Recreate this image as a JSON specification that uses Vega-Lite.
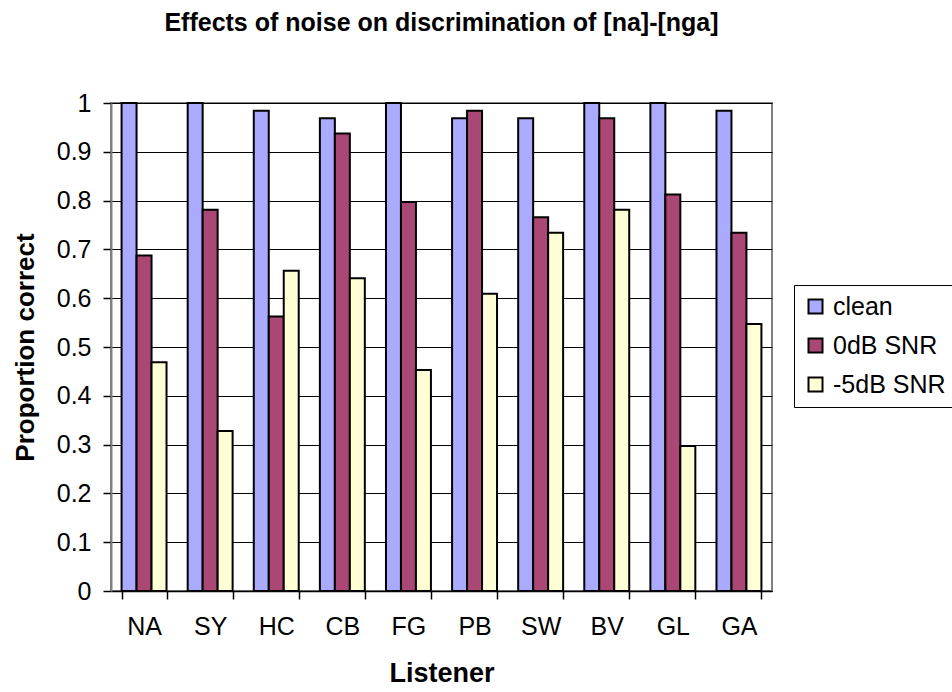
{
  "$schema": "https://vega.github.io/schema/vega-lite/v6.json",
  "width": 661,
  "height": 488,
  "autosize": "none",
  "padding": {"left": 111, "top": 103, "right": 180, "bottom": 101},
  "background": "white",
  "config": {
    "font": "Liberation Sans",
    "view": {"stroke": "#808080", "strokeWidth": 2},
    "axis": {"labelFont": "Liberation Sans", "titleFont": "Liberation Sans", "labelColor": "black", "titleColor": "black"}
  },
  "title": {
    "text": "Effects of noise on discrimination of [na]-[nga]",
    "fontSize": 25,
    "fontWeight": "bold",
    "font": "Liberation Sans",
    "anchor": "middle",
    "offset": 55,
    "color": "black"
  },
  "data": {
    "values": [
      {"listener": "NA", "condition": "clean", "value": 1},
      {"listener": "NA", "condition": "0dB SNR", "value": 0.6875},
      {"listener": "NA", "condition": "-5dB SNR", "value": 0.469},
      {"listener": "SY", "condition": "clean", "value": 1},
      {"listener": "SY", "condition": "0dB SNR", "value": 0.781},
      {"listener": "SY", "condition": "-5dB SNR", "value": 0.328},
      {"listener": "HC", "condition": "clean", "value": 0.984},
      {"listener": "HC", "condition": "0dB SNR", "value": 0.5625},
      {"listener": "HC", "condition": "-5dB SNR", "value": 0.656},
      {"listener": "CB", "condition": "clean", "value": 0.969},
      {"listener": "CB", "condition": "0dB SNR", "value": 0.9375},
      {"listener": "CB", "condition": "-5dB SNR", "value": 0.641},
      {"listener": "FG", "condition": "clean", "value": 1},
      {"listener": "FG", "condition": "0dB SNR", "value": 0.797},
      {"listener": "FG", "condition": "-5dB SNR", "value": 0.453},
      {"listener": "PB", "condition": "clean", "value": 0.969},
      {"listener": "PB", "condition": "0dB SNR", "value": 0.984},
      {"listener": "PB", "condition": "-5dB SNR", "value": 0.609},
      {"listener": "SW", "condition": "clean", "value": 0.969},
      {"listener": "SW", "condition": "0dB SNR", "value": 0.766},
      {"listener": "SW", "condition": "-5dB SNR", "value": 0.734},
      {"listener": "BV", "condition": "clean", "value": 1},
      {"listener": "BV", "condition": "0dB SNR", "value": 0.969},
      {"listener": "BV", "condition": "-5dB SNR", "value": 0.781},
      {"listener": "GL", "condition": "clean", "value": 1},
      {"listener": "GL", "condition": "0dB SNR", "value": 0.8125},
      {"listener": "GL", "condition": "-5dB SNR", "value": 0.297},
      {"listener": "GA", "condition": "clean", "value": 0.984},
      {"listener": "GA", "condition": "0dB SNR", "value": 0.734},
      {"listener": "GA", "condition": "-5dB SNR", "value": 0.547}
    ]
  },
  "mark": {"type": "bar", "stroke": "black", "strokeWidth": 2},
  "encoding": {
    "x": {
      "field": "listener",
      "type": "nominal",
      "sort": null,
      "scale": {"paddingInner": 0.32, "paddingOuter": 0.16},
      "axis": {
        "title": "Listener",
        "titleFontSize": 27,
        "titleFontWeight": "bold",
        "titleBaseline": "middle",
        "titleY": 82,
        "labelAngle": 0,
        "labelFontSize": 25,
        "labelPadding": 15,
        "domainColor": "black",
        "domainWidth": 1.5,
        "tickColor": "black",
        "tickWidth": 1.5,
        "tickSize": 8,
        "tickBand": "extent",
        "grid": false
      }
    },
    "xOffset": {
      "field": "condition",
      "type": "nominal",
      "sort": ["clean", "0dB SNR", "-5dB SNR"],
      "scale": {"paddingInner": 0, "paddingOuter": 0}
    },
    "y": {
      "field": "value",
      "type": "quantitative",
      "scale": {"domain": [0, 1], "nice": false},
      "axis": {
        "title": "Proportion correct",
        "titleFontSize": 26,
        "titleFontWeight": "bold",
        "titleAngle": -90,
        "titleBaseline": "middle",
        "titleX": -86,
        "titleY": 244,
        "values": [0, 0.1, 0.2, 0.3, 0.4, 0.5, 0.6, 0.7, 0.8, 0.9, 1],
        "format": "~g",
        "labelFontSize": 25,
        "labelPadding": 12,
        "domainColor": "#808080",
        "domainWidth": 2,
        "tickColor": "black",
        "tickWidth": 1.5,
        "tickSize": 8,
        "grid": true,
        "gridColor": "black",
        "gridWidth": 1,
        "gridOpacity": 1
      }
    },
    "color": {
      "field": "condition",
      "type": "nominal",
      "sort": ["clean", "0dB SNR", "-5dB SNR"],
      "scale": {"domain": ["clean", "0dB SNR", "-5dB SNR"], "range": ["#AAAAFF", "#AA4775", "#FFFFD5"]},
      "legend": {
        "title": null,
        "orient": "none",
        "legendX": 683,
        "legendY": 182,
        "symbolType": "square",
        "symbolSize": 196,
        "symbolStrokeColor": "black",
        "symbolStrokeWidth": 2,
        "symbolOpacity": 1,
        "labelFontSize": 25,
        "labelFont": "Liberation Sans",
        "labelColor": "black",
        "labelOffset": 5,
        "rowPadding": 13,
        "padding": 9,
        "strokeColor": "black",
        "fillColor": "white"
      }
    }
  }
}
